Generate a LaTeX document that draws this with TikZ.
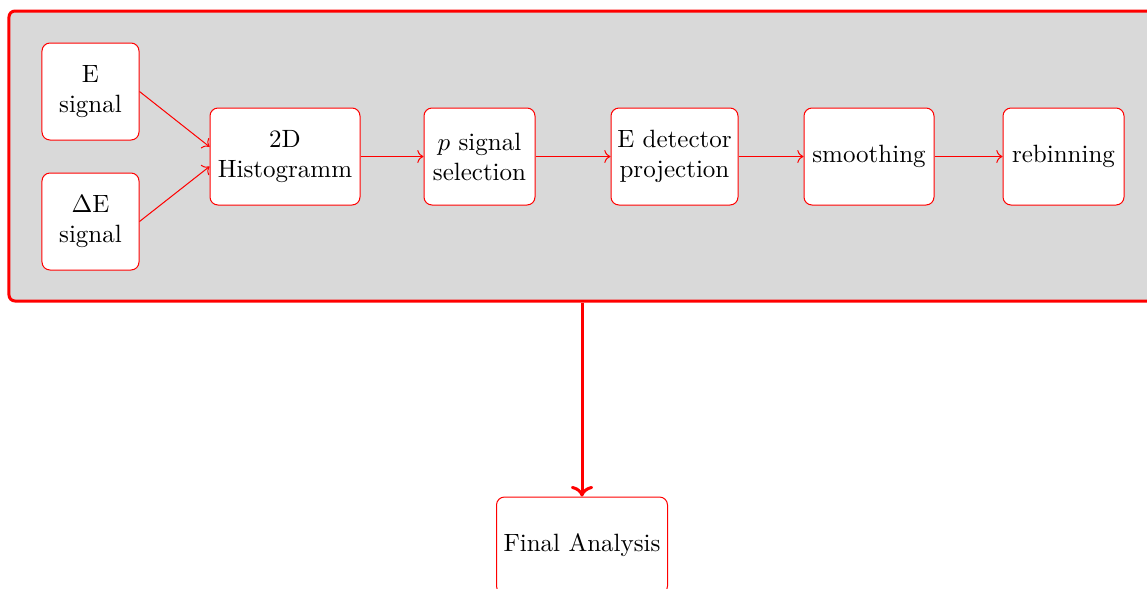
\documentclass[tikz,border=0pt]{standalone}
\usetikzlibrary{arrows.meta}
\begin{document}
\begin{tikzpicture}[x=0.4pt,y=-0.4pt,
  stepbox/.style={draw=red,fill=white,rounded corners=3.2pt,line width=0.4pt,
    minimum height=38.8pt,align=center,inner sep=2pt,font=\normalsize},
  frame/.style={draw=red,fill=black!15,rounded corners=2.4pt,line width=1.2pt,
    minimum width=458.4pt,minimum height=116pt,inner sep=0pt},
  thinarrow/.style={draw=red,line width=0.4pt,->},
  thickarrow/.style={draw=red,line width=1.2pt,->}]
\useasboundingbox (0,0) rectangle (1147,588);
\clip (0,0) rectangle (1147,588);
\node[frame] (outer) at (582,156) {};
\node[stepbox,minimum width=38.8pt] (esig) at (90.5,91.5) {E\\signal};
\node[stepbox,minimum width=38.8pt] (desig) at (90.5,221.5) {$\Delta$E\\signal};
\node[stepbox,minimum width=60pt] (hist) at (285,156.5) {2D\\Histogramm};
\node[stepbox,minimum width=44.4pt] (psel) at (479.5,156.5) {$p$ signal\\selection};
\node[stepbox,minimum width=50.8pt] (edet) at (674.5,156.5) {E detector\\projection};
\node[stepbox,minimum width=52pt] (smooth) at (869,156.5) {smoothing};
\node[stepbox,minimum width=48.4pt] (rebin) at (1063.5,156.5) {rebinning};
\node[stepbox,minimum width=68.4pt] (final) at (582,545.5) {Final Analysis};
\draw[thinarrow] (esig.east) -- ([yshift=3.9pt]hist.west);
\draw[thinarrow] (desig.east) -- ([yshift=-4pt]hist.west);
\draw[thinarrow] (hist) -- (psel);
\draw[thinarrow] (psel) -- (edet);
\draw[thinarrow] (edet) -- (smooth);
\draw[thinarrow] (smooth) -- (rebin);
\draw[thickarrow] (outer.south) -- (final.north);
\end{tikzpicture}
\end{document}
